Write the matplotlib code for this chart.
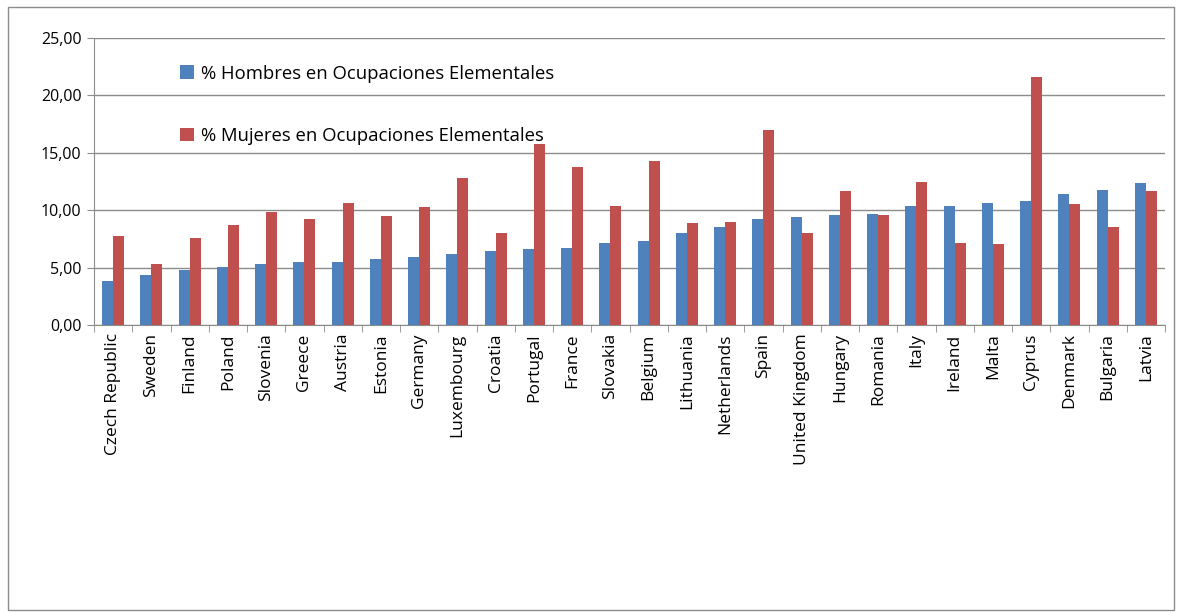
import matplotlib.pyplot as plt
import matplotlib.patches as patches
import numpy as np

# ------------------------------------------------------------
# Data
# ------------------------------------------------------------
countries = ['Czech Republic', 'Sweden', 'Finland', 'Poland', 'Slovenia', 'Greece',
             'Austria', 'Estonia', 'Germany', 'Luxembourg', 'Croatia', 'Portugal',
             'France', 'Slovakia', 'Belgium', 'Lithuania', 'Netherlands', 'Spain',
             'United Kingdom', 'Hungary', 'Romania', 'Italy', 'Ireland', 'Malta',
             'Cyprus', 'Denmark', 'Bulgaria', 'Latvia']
hombres = [3.79, 4.37, 4.81, 5.01, 5.34, 5.48, 5.48, 5.77, 5.92, 6.18, 6.47, 6.62,
           6.73, 7.14, 7.32, 8.02, 8.57, 9.27, 9.42, 9.56, 9.71, 10.38, 10.38, 10.67,
           10.82, 11.37, 11.78, 12.36]
mujeres = [7.73, 5.34, 7.58, 8.72, 9.85, 9.27, 10.67, 9.53, 10.26, 12.77, 8.02, 15.74,
           13.76, 10.38, 14.31, 8.86, 8.98, 16.97, 8.02, 11.66, 9.56, 12.48, 7.14, 7.03,
           21.60, 10.52, 8.57, 11.66]
yticks = [0, 5, 10, 15, 20, 25]

label_h = '% Hombres en Ocupaciones Elementales'
label_m = '% Mujeres en Ocupaciones Elementales'

blue = '#4F81BD'
red = '#C0504D'
grid_c = '#8C8C8C'

plt.rcParams['font.family'] = ['Open Sans', 'DejaVu Sans']

fig = plt.figure(figsize=(11.78, 6.12), dpi=100)
ax = fig.add_axes([94 / 1178, 1 - 325 / 612, (1165 - 94) / 1178, (325 - 38) / 612])

# outer chart border
fig.patches.append(patches.Rectangle((8 / 1178, 2 / 612), 1166 / 1178, 603 / 612,
                                     transform=fig.transFigure, fill=False,
                                     ec='#8C8C8C', lw=1))

x = np.arange(len(countries))
w = 0.286
ax.bar(x - w / 2, hombres, w, color=blue, label=label_h, zorder=3)
ax.bar(x + w / 2, mujeres, w, color=red, label=label_m, zorder=3)

ax.set_ylim(0, 25)
ax.set_xlim(-0.5, len(countries) - 0.5)
ax.set_yticks(yticks)
ax.set_yticklabels([f'{v:.2f}'.replace('.', ',') for v in yticks], fontsize=11.5)
ax.yaxis.grid(True, color=grid_c, lw=1, zorder=0)

ax.set_xticks(x)
ax.set_xticklabels(countries, rotation=90, fontsize=12.5)
ax.set_xticks(np.arange(-0.5, len(countries)), minor=True)
ax.tick_params(axis='x', which='major', length=0, pad=6)
ax.tick_params(axis='x', which='minor', length=5, color=grid_c)
ax.tick_params(axis='y', length=5, color=grid_c, pad=4)

for s in ['top', 'right']:
    ax.spines[s].set_visible(False)
for s in ['left', 'bottom']:
    ax.spines[s].set_color(grid_c)

leg = ax.legend(loc='upper left', bbox_to_anchor=(0.065, 0.965), frameon=False,
                fontsize=13.3, labelspacing=2.4, handlelength=0.75, handleheight=0.75,
                handletextpad=0.35)

fig.savefig('out.png', dpi=100)
